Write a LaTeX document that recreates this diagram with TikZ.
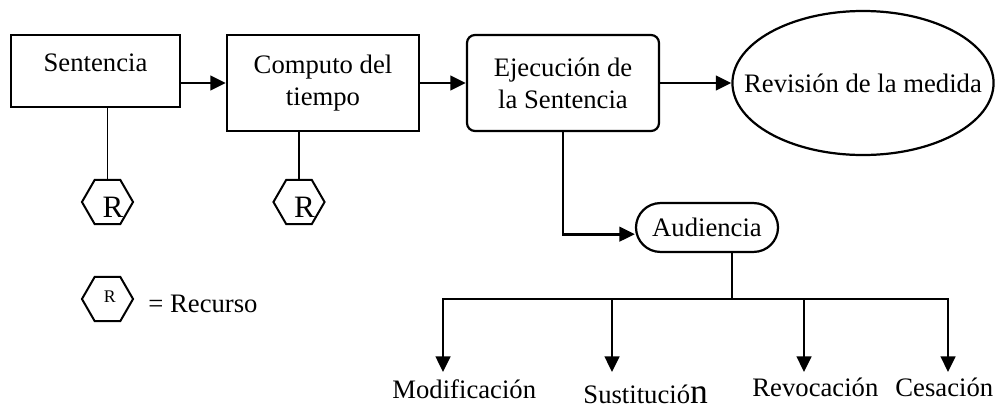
\documentclass[tikz,border=0pt]{standalone}
\usepackage{fontspec}
\setmainfont{Liberation Serif}
\usetikzlibrary{shapes.geometric,arrows.meta}
\tikzset{
  box/.style={draw,line width=1pt,inner sep=0pt,align=center},
  hexa/.style={draw,regular polygon,regular polygon sides=6,minimum size=23pt,inner sep=0pt,line width=0.9pt},
  bigR/.style={label={[xshift=2.5pt,yshift=-2.2pt,inner sep=0pt,font=\fontsize{14}{14}\selectfont]center:R}},
  arr/.style={-{Triangle[length=7pt,width=6.5pt]},line width=1.3pt},
  arrs/.style={{Triangle[length=7pt,width=6.5pt]}-{Triangle[length=7pt,width=6.5pt]},line width=1.3pt},
  lnk/.style={line width=0.8pt},
  outcome/.style={inner sep=0pt,anchor=base west}
}
\begin{document}
\begin{tikzpicture}[x=0.45pt,y=-0.45pt,font=\fontsize{12}{14.4}\selectfont]
\useasboundingbox (0,0) rectangle (996,410);
\node(sent) at (95.5,71)[box,minimum width=76pt,minimum height=32.4pt,text height=8pt,text depth=8pt] {Sentencia};
\node(comp) at (323,83)[box,minimum width=86.4pt,minimum height=43.2pt] {Computo del\\tiempo};
\node(ejec) at (563,83)[box,rounded corners=3.6pt,minimum width=86.4pt,minimum height=43.2pt] {Ejecución de\\la Sentencia};
\node(revi) at (863,83)[box,ellipse,minimum width=117.5pt,minimum height=64.8pt,label=center:Revisión de la medida] {};
\node(aud) at (707,227.5)[box,rounded corners=11pt,minimum width=63.9pt,minimum height=22pt] {Audiencia};
\node(r1) at (107.5,202)[hexa,bigR] {};
\node(r2) at (299,202)[hexa,bigR] {};
% leyenda
\node(key) at (107.5,299)[hexa,label={[xshift=1pt,yshift=1pt,inner sep=0pt,font=\fontsize{8}{8}\selectfont]center:R}] {};
\node(keytxt) at (148,312)[outcome] {= Recurso};
% salidas
\coordinate(bus) at (732,299);
\coordinate(tm) at (443,372);
\coordinate(ts) at (612,372);
\coordinate(tr) at (804,372);
\coordinate(tc) at (948,372);
\node(modi) at (392,398)[outcome] {Modificación};
\node(sust) at (583,403)[outcome] {Sustitució{\fontsize{16}{16}\selectfont n}};
\node(revo) at (752,396)[outcome] {Revocación};
\node(cesa) at (895,396)[outcome] {Cesación};
\draw[arr] (sent.east |- comp.west) -- (comp.west);
\draw[arr] (comp) -- (ejec);
\draw[arr] (ejec) -- (revi);
\draw[arr] (ejec.south) |- ([yshift=-3pt]aud.west);
\draw[lnk] (r1.north) -- (r1.north |- sent.south);
\draw[lnk] (r2.north) -- (r2.north |- comp.south);
\draw[lnk] (bus |- aud.south) -- (bus);
\draw[arrs] (tm) -- (tm |- bus) -- (tc |- bus) -- (tc);
\foreach \t in {ts,tr} \draw[arr] (\t |- bus) -- (\t);
\end{tikzpicture}
\end{document}
